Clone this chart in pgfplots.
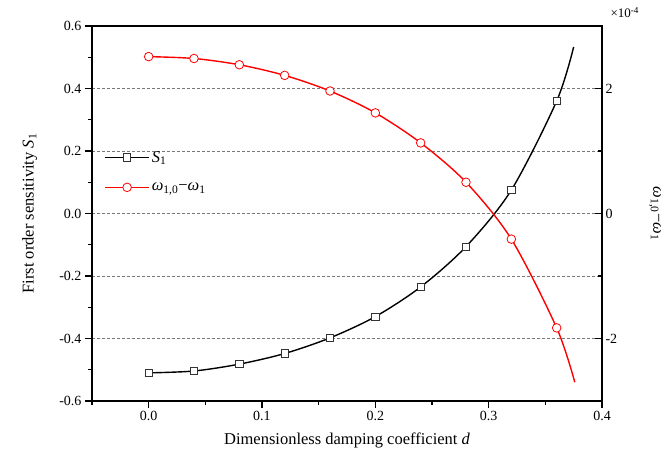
\documentclass[border=0pt]{standalone}
\usepackage{pgfplots}
\pgfplotsset{compat=1.18}
\usepackage{fontspec}
\setmainfont{Liberation Serif}
\definecolor{gridgray}{RGB}{120,120,120}
\begin{document}
\begin{tikzpicture}[x=1pt,y=1pt]
\useasboundingbox (-92,-60) rectangle (580,401);
\begin{axis}[
  at={(0,0)}, anchor=south west, scale only axis,
  width=510pt, height=375pt,
  xmin=-0.05, xmax=0.4, ymin=-0.6, ymax=0.6,
  xtick={0,0.1,0.2,0.3,0.4},
  minor xtick={-0.05,0.05,0.15,0.25,0.35},
  ytick={-0.6,-0.4,-0.2,0,0.2,0.4,0.6},
  minor ytick={-0.5,-0.3,-0.1,0.1,0.3,0.5},
  tick pos=left, tick align=outside,
  major tick length=7pt, minor tick length=4pt,
  tick style={black, line width=1.3pt},
  axis line style={line width=1.6pt},
  ymajorgrids, grid style={gridgray, dash pattern=on 3pt off 2pt, line width=0.7pt},
  /pgf/number format/assume math mode=true,
  /pgf/number format/fixed, /pgf/number format/fixed zerofill,
  /pgf/number format/precision=1,
  ticklabel style={font=\fontsize{14}{16}\selectfont},
  label style={font=\fontsize{16.5}{18}\selectfont},
  xlabel={Dimensionless damping coefficient \textit{d}},
  ylabel={First order sensitivity \textit{S}\textsubscript{1}},
  xlabel style={at={(axis description cs:0.5,-0.104)}, anchor=center},
  ylabel style={at={(axis description cs:-0.122,0.5)}, anchor=center},
  legend cell align=left,
  legend style={draw=none, fill=none, at={(axis description cs:0.02,0.677)}, anchor=north west,
    font=\fontsize{16.5}{18}\selectfont, row sep=15pt, inner sep=2pt},
  legend image code/.code={
    \draw[mark repeat=2,mark phase=2,#1] plot coordinates {(0pt,0pt) (22pt,0pt) (44pt,0pt)};},
]
\addplot[black, line width=1.4pt, smooth, mark=square*, mark indices={1,...,10},
  mark options={fill=white, draw=black!80, line width=0.8pt, mark size=3.7pt, solid}, forget plot]
  coordinates {
  (0.00,-0.510) (0.04,-0.504) (0.08,-0.482) (0.12,-0.448) (0.16,-0.398)
  (0.20,-0.330) (0.24,-0.235) (0.28,-0.106) (0.32,0.075) (0.36,0.360)
  (0.375,0.533)};
\addlegendimage{black, line width=1.4pt, mark=square*, mark options={fill=white, draw=black!80, line width=0.8pt, mark size=3.7pt}}
\addlegendentry{\textit{S}\textsubscript{1}}
\addlegendimage{red, line width=1.4pt, mark=*, mark options={fill=white, draw=red, line width=0.8pt, mark size=4.3pt}}
\addlegendentry{\textit{ω}\textsubscript{1,0}−\textit{ω}\textsubscript{1}}
\end{axis}
\begin{axis}[
  at={(0,0)}, anchor=south west, scale only axis,
  width=510pt, height=375pt,
  xmin=-0.05, xmax=0.4, ymin=-3, ymax=3,
  axis x line=none, axis y line*=right,
  ytick={-2,0,2}, minor ytick={-1,1},
  tick align=inside,
  major tick length=7pt, minor tick length=4pt,
  tick style={black, line width=1.3pt},
  axis line style={line width=1.6pt},
  /pgf/number format/assume math mode=true,
  ticklabel style={font=\fontsize{14}{16}\selectfont},
  label style={font=\fontsize{16.5}{18}\selectfont},
  ylabel={\textit{ω}\textsubscript{1,0}−\textit{ω}\textsubscript{1}},
  ylabel style={at={(axis description cs:1.104,0.5)}, anchor=center, rotate=180},
  clip=false,
]
\addplot[red, line width=1.4pt, smooth, mark=*, mark indices={1,...,10},
  mark options={fill=white, draw=red, line width=0.8pt, mark size=4.3pt, solid}]
  coordinates {
  (0.00,2.51) (0.04,2.48) (0.08,2.38) (0.12,2.21) (0.16,1.96)
  (0.20,1.61) (0.24,1.13) (0.28,0.50) (0.32,-0.41) (0.36,-1.83)
  (0.376,-2.70)};
\node[anchor=base west, font=\fontsize{13}{15}\selectfont] at (rel axis cs:1,1) [xshift=5pt, yshift=8pt] {×10\textsuperscript{-4}};
\end{axis}
\end{tikzpicture}
\end{document}
